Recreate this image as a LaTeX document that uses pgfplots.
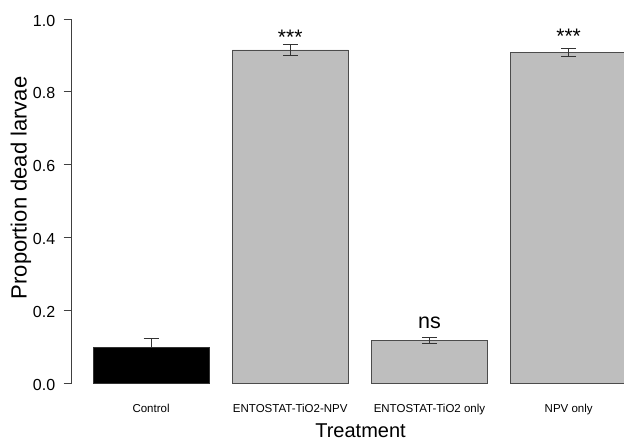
\documentclass[border=0pt]{standalone}
\usepackage{pgfplots}
\pgfplotsset{compat=1.18}
\usepackage{fontspec}
\setmainfont{Liberation Sans}
\definecolor{rgray}{RGB}{190,190,190}
\begin{document}
\begin{tikzpicture}
\begin{axis}[
  scale only axis, width=552.3bp, height=364bp,
  xmin=0.016, xmax=4.777, ymin=0, ymax=1,
  axis y line*=left, axis x line*=bottom,
  x axis line style={draw=none},
  y axis line style={black!75, line width=0.75bp},
  xtick={0.7,1.9,3.1,4.3},
  xticklabels={Control, ENTOSTAT-TiO2-NPV, ENTOSTAT-TiO2 only, NPV only},
  xtick style={draw=none},
  xticklabel style={font=\fontsize{11.5bp}{13bp}\selectfont, anchor=base, yshift=-21.7bp},
  ytick={0,0.2,0.4,0.6,0.8,1},
  tick align=outside, major tick length=8bp,
  ytick style={black!75, line width=0.75bp},
  yticklabel style={font=\fontsize{16bp}{18bp}\selectfont, xshift=-5bp, yshift=-1.5bp, /pgf/number format/.cd, fixed, fixed zerofill, precision=1, assume math mode=true},
  ylabel={Proportion dead larvae},
  ylabel style={font=\fontsize{22bp}{24bp}\selectfont, at={(axis description cs:-0.0815,0.536)}, anchor=base},
  xlabel={Treatment},
  xlabel style={font=\fontsize{20bp}{24bp}\selectfont, at={(axis description cs:0.523,-0.1484)}, anchor=base},
]
\coordinate (ll) at (rel axis cs:0,0);
\addplot[ybar, bar shift=0pt, bar width=1, fill=black, draw=black!80, line width=0.75bp,
  error bars/.cd, y dir=plus, y explicit,
  error bar style={black!80, line width=0.75bp},
  error mark options={rotate=90, mark size=7.5bp, black!80, line width=0.75bp}]
  coordinates {(0.7,0.098) +- (0,0.024)};
\addplot[ybar, bar shift=0pt, bar width=1, fill=rgray, draw=black!70, line width=0.75bp,
  error bars/.cd, y dir=both, y explicit,
  error bar style={black!80, line width=0.75bp},
  error mark options={rotate=90, mark size=7.5bp, black!80, line width=0.75bp}]
  coordinates {(1.9,0.915) +- (0,0.016) (3.1,0.116) +- (0,0.008) (4.3,0.908) +- (0,0.011)};
\node[font=\fontsize{21bp}{24bp}\selectfont, anchor=base, inner sep=0pt] at (axis cs:1.9,0.931) {***};
\node[font=\fontsize{21bp}{24bp}\selectfont, anchor=base, inner sep=0pt] at (axis cs:4.3,0.934) {***};
\node[font=\fontsize{21.5bp}{24bp}\selectfont, anchor=base, inner sep=0pt] at (axis cs:3.1,0.151) {ns};
\end{axis}
\pgfresetboundingbox
\path (ll) ++(-71.7bp,-57bp) rectangle ++(624bp,440bp);
\end{tikzpicture}
\end{document}
